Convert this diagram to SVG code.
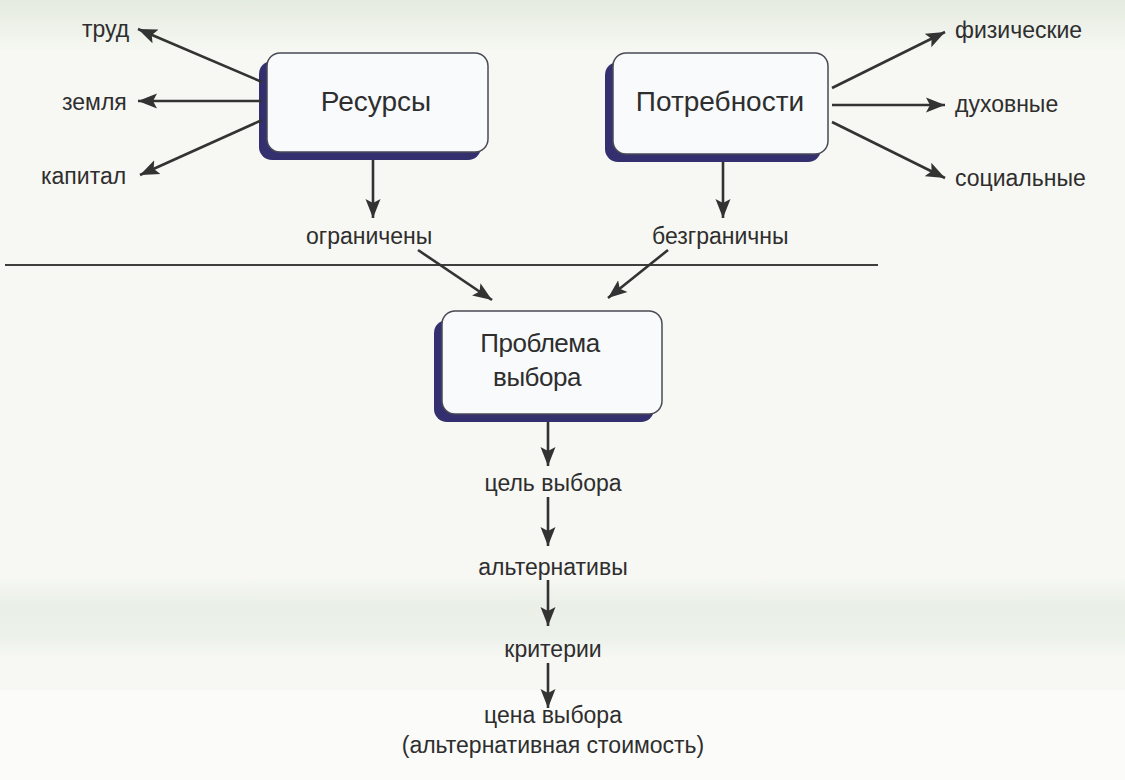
<svg xmlns="http://www.w3.org/2000/svg" width="1125" height="780" viewBox="0 0 1125 780">
  <defs>
    <marker id="ah" markerUnits="userSpaceOnUse" markerWidth="22" markerHeight="16" refX="19" refY="8" orient="auto">
      <path d="M0,0.5 L19,8 L0,15.5 L4,8 Z" fill="#333"/>
    </marker>
    <linearGradient id="topband" x1="0" y1="0" x2="0" y2="1">
      <stop offset="0" stop-color="#e4ebe0"/>
      <stop offset="1" stop-color="#f6f7f2"/>
    </linearGradient>
    <linearGradient id="midband" x1="0" y1="0" x2="0" y2="1">
      <stop offset="0" stop-color="#f6f7f2"/>
      <stop offset="0.3" stop-color="#eaf0e8"/>
      <stop offset="0.7" stop-color="#ecf1ea"/>
      <stop offset="1" stop-color="#f8f8f5"/>
    </linearGradient>
  </defs>
  <style>
    .lbl { font-family: "Liberation Sans", Arial, sans-serif; font-size: 23px; fill: #2e2e2e; }
    .box-t { font-family: "Liberation Sans", Arial, sans-serif; font-size: 28px; fill: #2e2e2e; text-anchor: middle; }
    .box-t2 { font-family: "Liberation Sans", Arial, sans-serif; font-size: 26px; letter-spacing: -0.5px; fill: #2e2e2e; text-anchor: middle; }
    .shadow { fill: #34306f; }
    .box { fill: #f9fafc; stroke: #4a4a55; stroke-width: 1.5; }
    .conn line { stroke: #333; stroke-width: 2.6; marker-end: url(#ah); }
  </style>

  <rect x="0" y="0" width="1125" height="780" fill="#f7f7f3"/>
  <rect x="0" y="0" width="1125" height="50" fill="url(#topband)"/>
  <rect x="0" y="580" width="1125" height="80" fill="url(#midband)"/>
  <rect x="0" y="690" width="1125" height="90" fill="#fbfbf9"/>

  <line x1="5" y1="265" x2="878" y2="265" stroke="#000" stroke-width="1.5"/>

  <g id="node-resources">
    <rect class="shadow" x="259" y="61" width="222" height="99" rx="13"/>
    <rect class="box" x="267" y="53" width="221" height="99" rx="13"/>
    <text class="box-t" x="376" y="111">Ресурсы</text>
  </g>

  <g id="node-needs">
    <rect class="shadow" x="605" y="62" width="216" height="100" rx="13"/>
    <rect class="box" x="613" y="53" width="215" height="101" rx="13"/>
    <text class="box-t" x="720" y="111">Потребности</text>
  </g>

  <g id="node-problem">
    <rect class="shadow" x="434" y="320" width="220" height="102" rx="13"/>
    <rect class="box" x="442" y="311" width="220" height="103" rx="13"/>
    <text class="box-t2" x="540" y="352">Проблема</text>
    <text class="box-t2" x="537" y="386">выбора</text>
  </g>

  <g id="labels">
    <text class="lbl" x="82" y="37">труд</text>
    <text class="lbl" x="62" y="110">земля</text>
    <text class="lbl" x="41" y="184">капитал</text>
    <text class="lbl" x="306" y="244">ограничены</text>
    <text class="lbl" x="652" y="244">безграничны</text>
    <text class="lbl" x="955" y="38">физические</text>
    <text class="lbl" x="955" y="112">духовные</text>
    <text class="lbl" x="955" y="186">социальные</text>
    <text class="lbl" x="553" y="491" text-anchor="middle">цель выбора</text>
    <text class="lbl" x="553" y="575" text-anchor="middle">альтернативы</text>
    <text class="lbl" x="553" y="657" text-anchor="middle">критерии</text>
    <text class="lbl" x="553" y="723" text-anchor="middle">цена выбора</text>
    <text class="lbl" x="553" y="753" text-anchor="middle">(альтернативная стоимость)</text>
  </g>

  <g id="connectors" class="conn">
    <line x1="262" y1="82" x2="138" y2="29"/>
    <line x1="262" y1="101" x2="138" y2="101"/>
    <line x1="262" y1="120" x2="140" y2="175"/>
    <line x1="373" y1="160" x2="373" y2="218"/>
    <line x1="832" y1="88" x2="945" y2="32"/>
    <line x1="832" y1="105" x2="945" y2="105"/>
    <line x1="832" y1="122" x2="945" y2="178"/>
    <line x1="723" y1="162" x2="723" y2="218"/>
    <line x1="418" y1="250" x2="492" y2="300"/>
    <line x1="668" y1="250" x2="608" y2="298"/>
    <line x1="548" y1="422" x2="548" y2="466"/>
    <line x1="548" y1="497" x2="548" y2="546"/>
    <line x1="548" y1="580" x2="548" y2="626"/>
    <line x1="548" y1="663" x2="548" y2="708"/>
  </g>
</svg>
